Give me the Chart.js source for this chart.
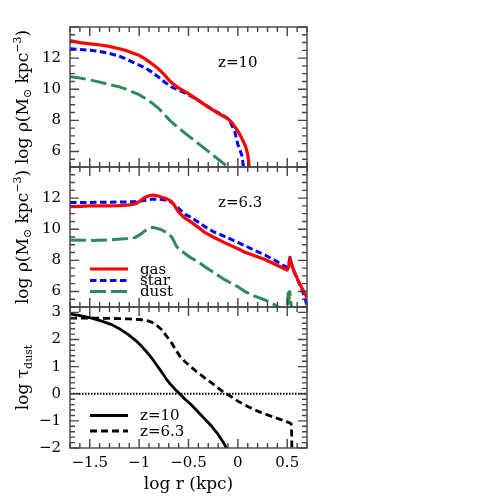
<!DOCTYPE html>
<html><head><meta charset="utf-8">
<script src="https://cdn.jsdelivr.net/npm/chart.js@4.4.1/dist/chart.umd.min.js"></script>
<style>
html,body{margin:0;padding:0;background:#fff;}
#wrap{position:relative;width:502px;height:502px;background:#fff;}
canvas{position:absolute;left:0;top:0;}
</style></head><body>
<div id="wrap">
<canvas id="c1" width="502" height="502"></canvas>
<canvas id="c2" width="502" height="502"></canvas>
<canvas id="c3" width="502" height="502"></canvas>
</div>
<script>
// ---------- data (log r in kpc) ----------
// Panel 1: z = 10, log rho
const z10_gas_r   = [-1.7,-1.6,-1.5,-1.41,-1.3,-1.2,-1.14,-1.06,-1.0,-0.94,-0.87,-0.8,-0.755,-0.7,-0.67,-0.6,-0.55,-0.5,-0.4,-0.3,-0.2,-0.15,-0.1,-0.06,-0.02,0.02,0.05,0.08,0.1,0.11,0.115];
const z10_gas_rho = [13.12,13.0,12.92,12.86,12.75,12.6,12.5,12.32,12.18,11.95,11.64,11.28,11.0,10.6,10.42,10.08,9.9,9.72,9.28,8.85,8.45,8.28,8.1,7.85,7.5,7.1,6.7,6.3,5.8,5.3,4.9];
const z10_star_r   = [-1.7,-1.6,-1.5,-1.41,-1.3,-1.2,-1.14,-1.0,-0.94,-0.87,-0.806,-0.74,-0.67,-0.6,-0.5,-0.4,-0.3,-0.2,-0.12,-0.08,-0.03,0.0,0.04,0.055,0.06];
const z10_star_rho = [12.6,12.55,12.5,12.44,12.3,12.12,11.96,11.55,11.38,11.1,10.79,10.45,10.14,9.95,9.65,9.28,8.87,8.5,8.2,7.95,7.25,6.45,5.75,5.1,4.9];
const z10_dust_r   = [-1.7,-1.6,-1.5,-1.41,-1.3,-1.2,-1.14,-1.0,-0.94,-0.87,-0.8,-0.75,-0.69,-0.6,-0.52,-0.45,-0.4,-0.3,-0.2,-0.1,-0.08];
const z10_dust_rho = [10.8,10.72,10.6,10.47,10.3,10.15,10.02,9.65,9.42,9.12,8.75,8.42,8.0,7.5,7.1,6.75,6.5,6.0,5.5,5.0,4.9];
// Panel 2: z = 6.3, log rho
const z63_gas_r   = [-1.7,-1.6,-1.5,-1.4,-1.3,-1.2,-1.1,-1.04,-1.0,-0.94,-0.9,-0.856,-0.8,-0.771,-0.72,-0.677,-0.64,-0.603,-0.55,-0.485,-0.4,-0.333,-0.25,-0.13,0.0,0.072,0.15,0.275,0.376,0.45,0.5,0.515,0.528,0.54,0.56,0.6,0.65,0.7];
const z63_gas_rho = [11.45,11.47,11.5,11.5,11.5,11.52,11.57,11.62,11.78,12.05,12.15,12.2,12.12,12.05,11.95,11.81,11.5,11.13,10.78,10.5,10.12,9.78,9.5,9.12,8.75,8.52,8.35,8.05,7.75,7.52,7.38,7.6,8.15,7.8,7.45,6.85,6.2,5.6];
const z63_star_r   = [-1.7,-1.5,-1.3,-1.1,-1.042,-0.95,-0.856,-0.8,-0.738,-0.67,-0.603,-0.535,-0.485,-0.4,-0.333,-0.25,-0.13,0.0,0.072,0.15,0.275,0.376,0.45,0.5,0.515,0.528,0.54,0.56,0.612,0.65,0.68,0.7];
const z63_star_rho = [11.71,11.72,11.74,11.76,11.77,11.85,11.94,11.93,11.88,11.73,11.35,10.96,10.8,10.45,10.16,9.85,9.52,9.15,8.94,8.7,8.34,8.0,7.7,7.55,7.8,8.2,7.85,7.4,6.63,6.1,5.56,5.1];
const z63_dust_r   = [-1.7,-1.5,-1.3,-1.15,-1.042,-0.98,-0.907,-0.856,-0.78,-0.705,-0.665,-0.62,-0.55,-0.485,-0.4,-0.333,-0.23,-0.13,0.0,0.072,0.17,0.275,0.376,0.43,0.5,0.51,0.515,0.525,0.535,0.545];
const z63_dust_rho = [9.31,9.28,9.32,9.38,9.46,9.7,10.06,10.12,9.98,9.74,9.45,8.88,8.5,8.2,7.9,7.59,7.15,6.74,6.3,5.99,5.7,5.45,5.13,4.9,4.8,5.9,5.3,6.0,5.4,4.8];
// Panel 3: log tau_dust
const tau_z10_r   = [-1.7,-1.6,-1.48,-1.38,-1.278,-1.2,-1.109,-1.04,-0.974,-0.92,-0.873,-0.83,-0.789,-0.75,-0.72,-0.68,-0.637,-0.6,-0.535,-0.485,-0.4,-0.33,-0.265,-0.21,-0.164,-0.13,-0.11];
const tau_z10_tau = [2.95,2.88,2.79,2.68,2.55,2.4,2.18,1.98,1.75,1.53,1.32,1.1,0.89,0.68,0.52,0.34,0.17,0.04,-0.2,-0.36,-0.68,-0.95,-1.2,-1.45,-1.7,-1.9,-2.05];
const tau_z63_r   = [-1.7,-1.5,-1.3,-1.1,-0.974,-0.92,-0.873,-0.82,-0.772,-0.72,-0.67,-0.63,-0.586,-0.54,-0.5,-0.42,-0.333,-0.24,-0.147,-0.07,0.004,0.1,0.206,0.3,0.376,0.45,0.528,0.54,0.545,0.547];
const tau_z63_tau = [2.79,2.79,2.78,2.76,2.73,2.7,2.64,2.52,2.36,2.12,1.87,1.62,1.38,1.2,1.07,0.82,0.58,0.33,0.06,-0.1,-0.28,-0.47,-0.65,-0.78,-0.88,-0.97,-1.08,-1.12,-1.5,-2.1];
const zero_r   = [-1.7, 0.7];
const zero_tau = [0, 0];
// tick labels
const rTicks   = [-1.5, -1, -0.5, 0, 0.5];
const rhoTicks = [6, 8, 10, 12];
const tauTicks = [-2, -1, 0, 1, 2, 3];
const rhoLabels = ['gas', 'star', 'dust'];
const tauLabels = ['z=10', 'z=6.3'];

// ---------- helpers ----------
const pts = (xs, ys) => xs.map((x, i) => ({x, y: ys[i]}));
const FONT = 'DejaVu Serif';
const fmt = v => (v < 0 ? '\u2212' : '') + String(Math.abs(v));
const RED = '#ff0000', BLUE = '#0000ff', GREEN = '#2e8b57';

const decor = {
  id: 'decor',
  afterDatasetsDraw(chart, args, o) {
    const {ctx, chartArea: a, scales: {x, y}} = chart;
    ctx.save();
    // frame and inward ticks
    ctx.strokeStyle = '#444'; ctx.lineWidth = 1.4; ctx.setLineDash([]);
    ctx.strokeRect(a.left, a.top, a.right - a.left, a.bottom - a.top);
    const each = (min, max, step, major, fn) => {
      for (let i = Math.ceil(min / step - 1e-6); i * step <= max + 1e-9; i++) {
        const v = i * step;
        fn(v, Math.abs(v / major - Math.round(v / major)) < 1e-6);
      }
    };
    ctx.beginPath();
    each(x.min, x.max, o.xMinor, o.xMajor, (v, m) => {
      const p = x.getPixelForValue(v), L = m ? 9 : 5;
      ctx.moveTo(p, a.bottom); ctx.lineTo(p, a.bottom - L);
      ctx.moveTo(p, a.top); ctx.lineTo(p, a.top + L);
    });
    each(y.min, y.max, o.yMinor, o.yMajor, (v, m) => {
      const p = y.getPixelForValue(v), L = m ? 9 : 5;
      ctx.moveTo(a.left, p); ctx.lineTo(a.left + L, p);
      ctx.moveTo(a.right, p); ctx.lineTo(a.right - L, p);
    });
    ctx.stroke();
    // redshift label
    if (o.tag) {
      ctx.fillStyle = '#000'; ctx.font = '15px "' + FONT + '"';
      ctx.textAlign = 'left'; ctx.textBaseline = 'alphabetic';
      ctx.fillText(o.tag, a.left + 148, a.top + 40);
    }
    // legend built from the datasets
    if (o.legend) {
      const L = o.legend;
      L.items.forEach((di, k) => {
        const ds = chart.data.datasets[di];
        const yy = a.bottom - L.rows[k];
        ctx.beginPath();
        ctx.strokeStyle = ds.borderColor; ctx.lineWidth = ds.borderWidth;
        ctx.setLineDash(ds.borderDash || []);
        ctx.moveTo(a.left + 20, yy); ctx.lineTo(a.left + 58, yy); ctx.stroke();
        ctx.setLineDash([]);
        ctx.fillStyle = '#000'; ctx.font = '15px "' + FONT + '"';
        ctx.textAlign = 'left'; ctx.textBaseline = 'alphabetic';
        ctx.fillText(ds.label, a.left + 70, yy + 4.5);
      });
    }
    // y-axis title with sub/superscripts
    if (o.ytitle) {
      const segs = o.ytitle;
      let total = 0;
      segs.forEach(s => { ctx.font = s.size + 'px "' + FONT + '"'; s.w = ctx.measureText(s.t).width; total += s.w; });
      ctx.translate(23, (a.top + a.bottom) / 2);
      ctx.rotate(-Math.PI / 2);
      ctx.fillStyle = '#000'; ctx.textAlign = 'left'; ctx.textBaseline = 'alphabetic';
      let cx = -total / 2;
      segs.forEach(s => { ctx.font = s.size + 'px "' + FONT + '"'; ctx.fillText(s.t, cx, 5 + (s.dy || 0)); cx += s.w; });
    }
    ctx.restore();
  }
};

const rhoTitle = [{t:'log \u03C1(M', size:17},{t:'\u2299', size:11, dy:3},{t:' kpc', size:17},{t:'\u22123', size:11, dy:-7},{t:')', size:17}];
const tauTitle = [{t:'log \u03C4', size:17},{t:'dust', size:11, dy:4}];

function yScale(min, max, ticks) {
  return {
    type: 'linear', min, max,
    grid: {display: false, drawTicks: false}, border: {display: false},
    afterFit(s) { s.width = 70; },
    afterBuildTicks(s) { s.ticks = ticks.map(v => ({value: v})); },
    ticks: {font: {family: FONT, size: 15}, color: '#000', padding: 9, callback: v => fmt(v)}
  };
}
function line(label, xs, ys, color, width, dash) {
  return {label, data: pts(xs, ys), borderColor: color, borderWidth: width, borderDash: dash,
          pointRadius: 0, fill: false, tension: 0, borderJoinStyle: 'round'};
}
function base(pad, yS, xS, dec, datasets) {
  return {
    type: 'line',
    data: {datasets},
    options: {
      responsive: false, animation: false, devicePixelRatio: 1,
      layout: {padding: pad},
      plugins: {legend: {display: false}, tooltip: {enabled: false}, decor: dec},
      scales: {x: xS, y: yS}
    },
    plugins: [decor]
  };
}
const hiddenX = {type: 'linear', min: -1.7, max: 0.7, display: false};

new Chart(document.getElementById('c1'), base(
  {left: 0, right: 195, top: 27, bottom: 335}, yScale(5, 14, rhoTicks), hiddenX,
  {xMinor: 0.1, xMajor: 0.5, yMinor: 0.5, yMajor: 2, tag: 'z=10', ytitle: rhoTitle},
  [line(rhoLabels[2], z10_dust_r, z10_dust_rho, GREEN, 3, [16, 5]),
   line(rhoLabels[0], z10_gas_r, z10_gas_rho, RED, 3.2, []),
   line(rhoLabels[1], z10_star_r, z10_star_rho, BLUE, 3, [6.5, 3.5])]
));
new Chart(document.getElementById('c2'), base(
  {left: 0, right: 195, top: 167, bottom: 195}, yScale(5, 14, rhoTicks), hiddenX,
  {xMinor: 0.1, xMajor: 0.5, yMinor: 0.5, yMajor: 2, tag: 'z=6.3', ytitle: rhoTitle,
   legend: {items: [1, 2, 0], rows: [38, 26.5, 15.5]}},
  [line(rhoLabels[2], z63_dust_r, z63_dust_rho, GREEN, 3, [16, 5]),
   line(rhoLabels[0], z63_gas_r, z63_gas_rho, RED, 3.2, []),
   line(rhoLabels[1], z63_star_r, z63_star_rho, BLUE, 3, [6.5, 3.5])]
));
new Chart(document.getElementById('c3'), base(
  {left: 0, right: 195, top: 307, bottom: 0}, yScale(-2, 3.2, tauTicks),
  {type: 'linear', min: -1.7, max: 0.7,
   grid: {display: false, drawTicks: false}, border: {display: false},
   afterFit(s) { s.height = 54; },
   afterBuildTicks(s) { s.ticks = rTicks.map(v => ({value: v})); },
   ticks: {font: {family: FONT, size: 15}, color: '#000', padding: 6, maxRotation: 0, autoSkip: false, callback: v => fmt(v)},
   title: {display: true, text: 'log r (kpc)', font: {family: FONT, size: 17}, color: '#000', padding: {top: 0, bottom: 7}}},
  {xMinor: 0.1, xMajor: 0.5, yMinor: 0.2, yMajor: 1, ytitle: tauTitle,
   legend: {items: [1, 2], rows: [32.5, 17]}},
  [line('zero', zero_r, zero_tau, '#000', 2.2, [1.5, 1.5]),
   line(tauLabels[0], tau_z10_r, tau_z10_tau, '#000', 2.8, []),
   line(tauLabels[1], tau_z63_r, tau_z63_tau, '#000', 2.8, [7, 4])]
));
</script>
</body></html>
